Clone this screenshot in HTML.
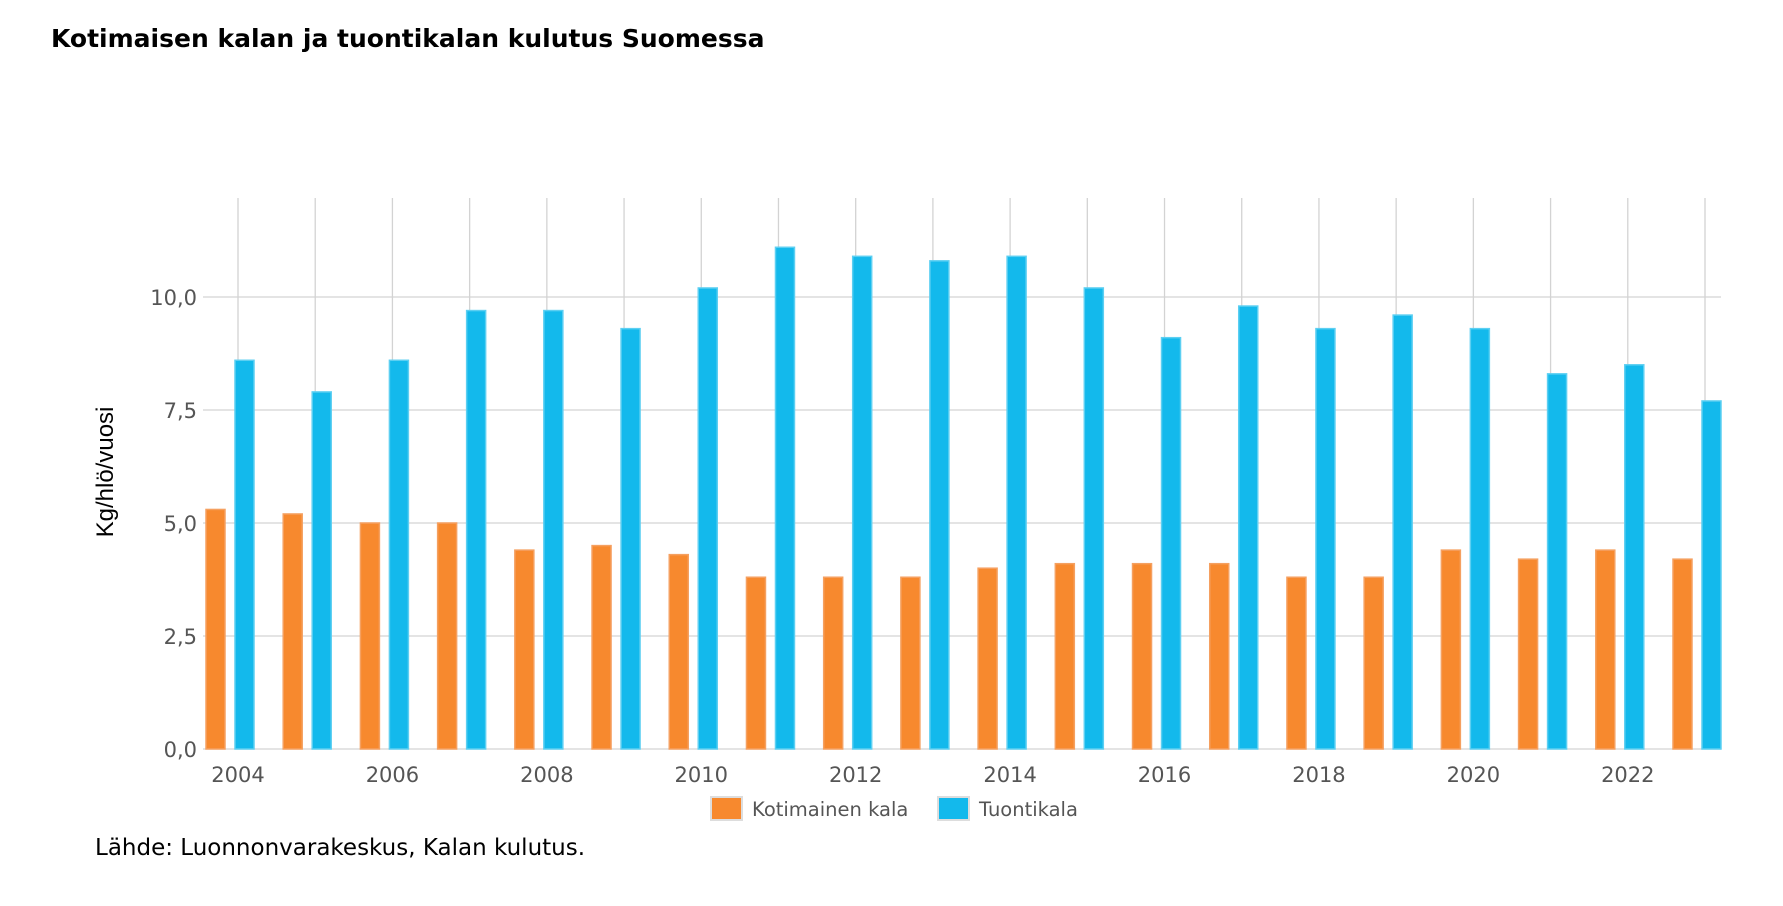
<!DOCTYPE html>
<html><head><meta charset="utf-8"><style>
body{margin:0;background:#fff;width:1783px;height:901px;overflow:hidden;font-family:"Liberation Sans",sans-serif}
</style></head><body>
<svg width="1783" height="901" xmlns="http://www.w3.org/2000/svg">
<text x="51" y="47" font-size="25" font-weight="bold" font-family="DejaVu Sans, sans-serif" fill="#000">Kotimaisen kalan ja tuontikalan kulutus Suomessa</text>
<g id="grid"></g><g id="bars"></g><g id="axes"></g>
<text transform="translate(113,472) rotate(-90)" text-anchor="middle" font-size="24" fill="#000">Kg/hlö/vuosi</text>
<g font-family="DejaVu Sans, sans-serif">
<g><rect x="711" y="797" width="31" height="23" fill="#f7892e" stroke="#ddd" stroke-width="2"/><text x="752" y="816" font-size="19.5" fill="#555">Kotimainen kala</text></g>
<g><rect x="938" y="797" width="31" height="23" fill="#13b9ec" stroke="#ddd" stroke-width="2"/><text x="979" y="816" font-size="19.5" fill="#555">Tuontikala</text></g>
</g>
<text x="95" y="855" font-size="23" font-family="DejaVu Sans, sans-serif" fill="#000">Lähde: Luonnonvarakeskus, Kalan kulutus.</text>
</svg>
<script>
const years=[2004,2005,2006,2007,2008,2009,2010,2011,2012,2013,2014,2015,2016,2017,2018,2019,2020,2021,2022,2023];
const kotimainen=[5.3,5.2,5.0,5.0,4.4,4.5,4.3,3.8,3.8,3.8,4.0,4.1,4.1,4.1,3.8,3.8,4.4,4.2,4.4,4.2];
const tuonti=[8.6,7.9,8.6,9.7,9.7,9.3,10.2,11.1,10.9,10.8,10.9,10.2,9.1,9.8,9.3,9.6,9.3,8.3,8.5,7.7];
const yTicks=[0,2.5,5,7.5,10];
const yTickLabels=["0,0","2,5","5,0","7,5","10,0"];
const xLabelYears=[2004,2006,2008,2010,2012,2014,2016,2018,2020,2022];
const NS="http://www.w3.org/2000/svg";
const L=203,R=1721,T=198,Y0=749,Y10=297;
const x=yr=>238+(yr-2004)*(1705-238)/19;
const y=v=>Y0-(Y0-Y10)*v/10;
function mk(tag,attrs,parent){const e=document.createElementNS(NS,tag);for(const k in attrs)e.setAttribute(k,attrs[k]);document.getElementById(parent).appendChild(e);return e;}
years.forEach(yr=>{const l=mk('line',{x1:x(yr),x2:x(yr),y1:T,y2:Y0,stroke:'#d3d3d3','stroke-width':1.3},'grid');

});
yTicks.forEach((v,i)=>{const l=mk('line',{x1:L,x2:R,y1:y(v),y2:y(v),stroke:'#d3d3d3','stroke-width':1.3},'grid');


const t=mk('text',{x:197,y:y(v)+8,'text-anchor':'end','font-size':21,'font-family':'DejaVu Sans, sans-serif',fill:'#555'},'axes');t.textContent=yTickLabels[i];

});
xLabelYears.forEach(yr=>{const t=mk('text',{x:x(yr),y:782,'text-anchor':'middle','font-size':21,'font-family':'DejaVu Sans, sans-serif',fill:'#555'},'axes');t.textContent=yr;

});
years.forEach((yr,i)=>{
const a=mk('rect',{x:x(yr)-32,y:y(kotimainen[i]),width:19,height:Y0-y(kotimainen[i]),fill:'#f7892e',stroke:'#f5a060','stroke-width':1.5},'bars');


const b=mk('rect',{x:x(yr)-3,y:y(tuonti[i]),width:19,height:Y0-y(tuonti[i]),fill:'#13b9ec',stroke:'#5ccff2','stroke-width':1.5},'bars');

});
</script>
</body></html>
